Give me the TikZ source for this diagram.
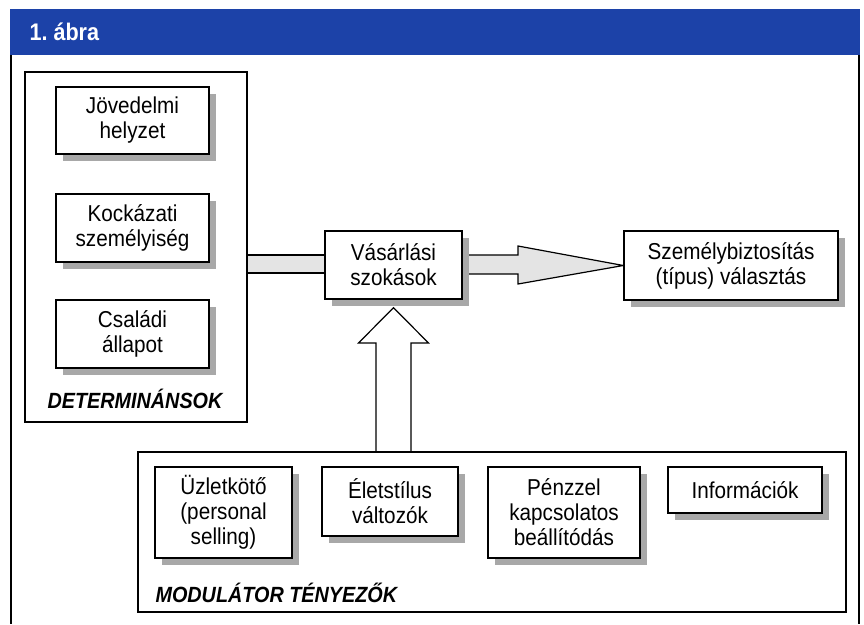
\documentclass[tikz,border=0pt]{standalone}
\usepackage{fontspec}
\setmainfont[FakeStretch=0.9]{Liberation Sans}
\usetikzlibrary{shadows,calc,backgrounds}
\definecolor{abrakek}{RGB}{28,66,168}
\definecolor{arnyek}{RGB}{168,168,168}
\definecolor{nyilszurke}{RGB}{228,228,228}

\tikzset{
  doboz/.style={draw, fill=white, line width=1.3pt, align=center, inner sep=0pt,
    font=\fontsize{23}{25}\selectfont,
    drop shadow={shadow xshift=7pt, shadow yshift=-7pt, fill=arnyek, opacity=1}},
  keret/.style={draw, line width=1.3pt, inner sep=0pt},
  cimke/.style={font=\fontsize{22}{24}\selectfont\bfseries\itshape},
  nyil/.style={draw, line width=1.2pt, fill=nyilszurke, line join=miter}
}

\begin{document}
\begin{tikzpicture}[x=1pt,y=-1pt]
\useasboundingbox (0,0) rectangle (864,624);

% fejlec
\fill [abrakek] (10,9) rectangle (860,55);
\node [anchor=west, text=white, font=\fontsize{24}{26}\selectfont\bfseries] (cim) at (26,32) {1.~ábra};
\draw [line width=1.4pt] (11,55) -- (11,624);
\draw [line width=1.4pt] (859,55) -- (859,624);

% determinansok
\node [keret, minimum width=222pt, minimum height=350pt] (det) at (136,247) {};
\node [doboz, minimum width=153pt, minimum height=67pt] (jov) at (132.5,120.5) {Jövedelmi\\helyzet};
\node [doboz, minimum width=153pt, minimum height=68pt] (kock) at (132.5,228) {Kockázati\\személyiség};
\node [doboz, minimum width=153pt, minimum height=68pt] (csal) at (132.5,334) {Családi\\állapot};
\node [cimke] (detcim) at (135,399) {DETERMINÁNSOK};

\node [doboz, minimum width=137pt, minimum height=68pt] (vas) at (393.5,265) {Vásárlási\\szokások};
\node [doboz, minimum width=214pt, minimum height=69pt] (szb) at (731,265.5) {Személybiztosítás\\(típus) választás};

% modulator tenyezok
\node [keret, minimum width=708pt, minimum height=160pt] (mod) at (492,532) {};
\node [doboz, minimum width=137pt, minimum height=91pt] (uzl) at (223.5,512.5) {Üzletkötő\\(personal\\selling)};
\node [doboz, minimum width=136pt, minimum height=69pt] (elet) at (390,501.5) {Életstílus\\változók};
\node [doboz, minimum width=152pt, minimum height=91pt] (penz) at (564,512.5) {Pénzzel\\kapcsolatos\\beállítódás};
\node [doboz, minimum width=154pt, minimum height=46pt] (inf) at (745,490) {Információk};
\node [cimke, anchor=west] (modcim) at (152,593) {MODULÁTOR TÉNYEZŐK};

\begin{scope}[on background layer]
\fill [nyilszurke] (det.east |- 0,255) rectangle (vas.west |- 0,273);
\draw [line width=1.2pt] (det.east |- 0,255) -- (vas.west |- 0,255)
  (det.east |- 0,273) -- (vas.west |- 0,273);

\filldraw [nyil] (vas.east |- 0,255) -- (518,255) -- (518,246) -- (szb.west)
  -- (518,284) -- (518,274) -- (vas.east |- 0,274);

\filldraw [nyil, fill=white] (mod.north -| 376,0) -- (376,343) -- (358.5,343)
  -- ($(vas.south)+(0,8)$) -- (428.5,343) -- (411,343) -- (mod.north -| 411,0);
\end{scope}

\end{tikzpicture}
\end{document}
